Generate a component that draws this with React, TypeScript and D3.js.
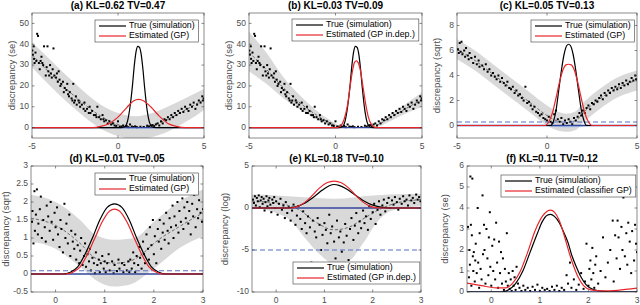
import { useEffect, useRef } from "react";
import * as d3 from "d3";

type Pt = [number, number];

// ---- text ----
const TITLES = [
  "(a) KL=0.62 TV=0.47",
  "(b) KL=0.03 TV=0.09",
  "(c) KL=0.05 TV=0.13",
  "(d) KL=0.01 TV=0.05",
  "(e) KL=0.18 TV=0.10",
  "(f) KL=0.11 TV=0.12",
];
const Y_LABELS = [
  "discrepancy (se)",
  "discrepancy (se)",
  "discrepancy (sqrt)",
  "discrepancy (sqrt)",
  "discrepancy (log)",
  "discrepancy (se)",
];
const TRUE_LABEL = "True (simulation)";
const EST_LABELS = [
  "Estimated (GP)",
  "Estimated (GP in.dep.)",
  "Estimated (GP)",
  "Estimated (GP)",
  "Estimated (GP in.dep.)",
  "Estimated (classifier GP)",
];

// ---- ticks ----
const WIDE_X_TICKS = [-5, 0, 5];
const NARROW_X_TICKS = [0, 1, 2, 3];
const SE_Y_TICKS = [0, 10, 20, 30, 40, 50];
const SQRT_C_Y_TICKS = [0, 2, 4, 6, 8];
const SQRT_D_Y_TICKS = [-0.5, 0, 0.5, 1, 1.5, 2, 2.5, 3];
const LOG_Y_TICKS = [-10, -5, 0, 5];
const SE_F_Y_TICKS = [0, 1, 2, 3, 4, 5, 6];

// ---- simulated discrepancies (se, panels a & b) ----
const SE_POINTS: Pt[] = [
  [-4.98, 37], [-4.95, 35], [-4.9, 39], [-4.88, 33], [-4.85, 31], [-4.8, 36], [-4.75, 32], [-4.7, 45],
  [-4.65, 44], [-4.6, 31], [-4.55, 28], [-4.5, 32], [-4.45, 34], [-4.4, 31], [-4.35, 30], [-4.3, 39],
  [-4.2, 25], [-4.15, 29], [-4.1, 39], [-4.05, 27], [-4.0, 25], [-3.95, 30], [-3.9, 26], [-3.85, 24],
  [-3.8, 28], [-3.75, 38], [-3.7, 25], [-3.6, 24], [-3.55, 26], [-3.5, 22], [-3.45, 27], [-3.4, 23],
  [-3.35, 20], [-3.3, 21], [-3.2, 22], [-3.15, 17], [-3.1, 19], [-3.0, 18], [-2.95, 21], [-2.9, 16],
  [-2.85, 15], [-2.8, 17], [-2.7, 14], [-2.65, 13], [-2.6, 21], [-2.55, 12], [-2.5, 13], [-2.45, 15],
  [-2.4, 11], [-2.3, 13], [-2.25, 12], [-2.2, 10], [-2.1, 11], [-2.0, 9], [-1.95, 12], [-1.9, 8],
  [-1.8, 9], [-1.7, 7], [-1.65, 10], [-1.6, 7], [-1.5, 8], [-1.4, 6], [-1.3, 6], [-1.25, 5],
  [-1.2, 10], [-1.1, 5], [-1.0, 4], [-0.9, 6], [-0.85, 4], [-0.8, 3], [-0.7, 3.5], [-0.6, 2],
  [-0.5, 3], [-0.4, 1.5], [-0.3, 2], [-0.2, 1], [-0.1, 0.8], [0, 3], [0.1, 0.5], [0.2, 0.4],
  [0.3, 1], [0.4, 0.3], [0.5, 0.8], [0.6, 0.2], [0.7, 1.5], [0.8, 0.5], [0.9, 0.3], [1.0, 0.6],
  [1.1, 0.2], [1.3, 0.4], [1.5, 0.3], [1.7, 0.9], [1.8, 0.5], [1.9, 1], [2.0, 1.2], [2.1, 0.7],
  [2.2, 1.5], [2.3, 2], [2.4, 1], [2.5, 3], [2.6, 2], [2.7, 4], [2.8, 3.5], [2.9, 5],
  [3.0, 4], [3.1, 6], [3.2, 5], [3.3, 7], [3.4, 6], [3.5, 8], [3.6, 7], [3.7, 9],
  [3.8, 7.5], [3.9, 10], [4.0, 9], [4.1, 8], [4.2, 11], [4.3, 10], [4.4, 12], [4.5, 9],
  [4.6, 11], [4.7, 13], [4.8, 12], [4.9, 15], [4.95, 13], [4.98, 14],
];

const SQRT_POINTS_C: Pt[] = [
  [-4.95, 6.1], [-4.9, 5.8], [-4.85, 6.6], [-4.8, 5.9], [-4.75, 6.7], [-4.7, 5.7], [-4.6, 6.0], [-4.55, 5.5],
  [-4.5, 6.2], [-4.4, 5.6], [-4.35, 5.3], [-4.3, 5.8], [-4.2, 5.4], [-4.1, 5.0], [-4.0, 5.5], [-3.9, 4.9],
  [-3.8, 5.2], [-3.75, 4.7], [-3.6, 4.8], [-3.5, 4.5], [-3.4, 4.9], [-3.3, 4.3], [-3.2, 4.5], [-3.1, 4.0],
  [-3.0, 4.2], [-2.9, 3.9], [-2.8, 3.7], [-2.7, 4.0], [-2.6, 3.5], [-2.5, 3.8], [-2.4, 3.4], [-2.3, 3.2],
  [-2.2, 3.5], [-2.1, 3.0], [-2.0, 2.9], [-1.9, 3.1], [-1.8, 2.6], [-1.7, 2.8], [-1.6, 2.4], [-1.5, 2.5],
  [-1.4, 2.2], [-1.3, 2.0], [-1.2, 3.1], [-1.1, 1.8], [-1.0, 1.9], [-0.9, 1.6], [-0.8, 1.3], [-0.7, 1.5],
  [-0.6, 1.1], [-0.5, 1.0], [-0.4, 0.8], [-0.3, 0.9], [-0.2, 0.6], [-0.1, 0.5], [0.0, 0.4], [0.1, 0.7],
  [0.2, 0.3], [0.3, 0.2], [0.4, 0.9], [0.5, 1.2], [0.6, 0.5], [0.7, 0.3], [0.8, 0.6], [0.9, 0.1],
  [1.0, 0.4], [1.1, 0.2], [1.2, 0.5], [1.3, 0.3], [1.4, 0.1], [1.5, 0.6], [1.6, 0.4], [1.7, 0.7],
  [1.8, 1.0], [1.9, 0.8], [2.0, 1.2], [2.1, 1.0], [2.2, 1.4], [2.3, 1.6], [2.4, 1.3], [2.5, 1.8],
  [2.6, 1.7], [2.7, 2.0], [2.8, 1.9], [2.9, 2.2], [3.0, 2.4], [3.1, 2.1], [3.2, 2.6], [3.3, 2.4],
  [3.4, 2.8], [3.5, 2.6], [3.6, 3.0], [3.7, 2.8], [3.8, 3.1], [3.9, 2.9], [4.0, 3.3], [4.1, 3.0],
  [4.2, 3.4], [4.3, 3.2], [4.4, 3.6], [4.5, 3.3], [4.6, 3.5], [4.7, 3.8], [4.8, 3.6], [4.9, 4.0], [4.95, 3.7],
];

const SQRT_POINTS_D: Pt[] = [
  [-0.48, 1.45], [-0.47, 1.75], [-0.45, 0.85], [-0.43, 2.3], [-0.42, 1.2], [-0.4, 1.65], [-0.38, 2.35], [-0.36, 1.1],
  [-0.35, 1.4], [-0.32, 1.8], [-0.3, 2.15], [-0.28, 1.0], [-0.25, 1.5], [-0.22, 1.3], [-0.2, 0.9], [-0.18, 1.9],
  [-0.15, 1.6], [-0.12, 1.2], [-0.1, 2.0], [-0.08, 1.45], [-0.05, 0.95], [-0.02, 1.7], [0, 1.3], [0.03, 1.85],
  [0.05, 1.1], [0.08, 0.75], [0.1, 1.5], [0.12, 1.25], [0.15, 0.6], [0.18, 1.95], [0.2, 1.0], [0.22, 1.4],
  [0.25, 0.85], [0.28, 1.65], [0.3, 0.5], [0.32, 1.2], [0.35, 0.9], [0.38, 0.7], [0.4, 1.1], [0.42, 0.4],
  [0.45, 0.8], [0.48, 0.3], [0.5, 0.65], [0.52, 1.0], [0.55, 0.25], [0.58, 0.5], [0.6, 0.85], [0.62, 0.2],
  [0.65, 0.55], [0.68, 0.35], [0.7, 0.7], [0.72, 0.1], [0.75, 0.45], [0.78, 0.3], [0.8, 0.02], [0.82, 0.6],
  [0.85, 0.25], [0.88, 0.4], [0.9, 0.05], [0.92, 0.3], [0.95, 0.5], [0.98, 0.15], [1.0, 0.35], [1.02, 0.05],
  [1.05, 0.3], [1.08, 0.55], [1.1, 0.1], [1.15, 0.35], [1.18, 0.02], [1.2, 0.25], [1.25, 0.08], [1.28, 0.4],
  [1.3, 0.15], [1.35, 0.3], [1.38, 0.05], [1.4, 0.25], [1.45, 0.1], [1.48, 0.35], [1.5, 0.05], [1.52, 0.4],
  [1.55, 0.15], [1.58, 0.6], [1.6, 0.3], [1.62, 0.05], [1.65, 0.5], [1.68, 0.25], [1.7, 0.75], [1.72, 0.45],
  [1.75, 0.15], [1.78, 0.9], [1.8, 0.55], [1.82, 0.3], [1.85, 1.1], [1.88, 0.7], [1.9, 0.4], [1.92, 1.3],
  [1.95, 0.8], [1.98, 1.5], [2.0, 0.55], [2.02, 1.05], [2.05, 0.3], [2.08, 1.25], [2.1, 0.9], [2.12, 1.5],
  [2.15, 0.7], [2.18, 1.15], [2.2, 1.4], [2.22, 0.95], [2.25, 1.7], [2.28, 1.2], [2.3, 0.85], [2.32, 1.55],
  [2.35, 1.3], [2.38, 1.9], [2.4, 1.0], [2.42, 1.6], [2.45, 1.35], [2.48, 2.0], [2.5, 1.15], [2.52, 1.75],
  [2.55, 1.45], [2.58, 2.1], [2.6, 1.25], [2.62, 1.85], [2.65, 1.55], [2.68, 2.0], [2.7, 1.4], [2.72, 1.75],
  [2.75, 1.1], [2.78, 1.95], [2.8, 1.6], [2.82, 2.2], [2.85, 1.3], [2.88, 1.8], [2.9, 1.55], [2.92, 2.05],
  [2.95, 1.7], [2.98, 1.45], [3.0, 1.8],
];

const LOG_POINTS_E: Pt[] = [
  [-0.48, 1.0], [-0.46, 0.6], [-0.44, 1.4], [-0.42, 0.3], [-0.4, 1.2], [-0.38, 0.8], [-0.36, 1.5], [-0.34, 0.1],
  [-0.32, 0.9], [-0.3, 1.3], [-0.28, 0.5], [-0.26, 1.1], [-0.24, -0.3], [-0.22, 0.7], [-0.2, 1.4], [-0.18, 0.2],
  [-0.16, 0.9], [-0.14, 1.2], [-0.12, 0.4], [-0.1, -0.5], [-0.08, 1.0], [-0.06, 0.6], [-0.04, 1.3], [-0.02, 0.0],
  [0.0, 0.8], [0.03, -0.8], [0.06, 0.5], [0.09, 1.1], [0.12, -0.2], [0.15, 0.3], [0.18, -1.2], [0.2, 0.7],
  [0.23, -0.6], [0.26, 0.1], [0.3, -1.5], [0.33, -0.3], [0.36, 0.4], [0.4, -2.0], [0.43, -0.9], [0.46, 0.2],
  [0.5, -1.3], [0.53, -2.5], [0.56, -0.4], [0.6, -1.8], [0.63, -3.0], [0.66, -1.0], [0.7, -2.3], [0.73, -6.5],
  [0.76, -1.5], [0.8, -2.8], [0.83, -3.5], [0.86, -1.2], [0.9, -2.0], [0.93, -5.0], [0.96, -3.2], [1.0, -1.8],
  [1.03, -2.6], [1.06, -4.2], [1.1, -0.8], [1.13, -3.0], [1.16, -2.2], [1.2, -4.0], [1.23, -6.0], [1.26, -1.5],
  [1.3, -3.5], [1.33, -2.8], [1.36, -5.2], [1.4, -4.1], [1.43, -1.9], [1.46, -3.3], [1.5, -6.2], [1.53, -2.5],
  [1.56, -1.2], [1.6, -3.8], [1.63, -2.1], [1.66, -0.6], [1.7, -3.0], [1.73, -1.6], [1.76, -2.4], [1.8, -0.3],
  [1.83, -1.8], [1.86, -1.0], [1.9, -2.6], [1.93, 0.2], [1.96, -1.3], [2.0, -0.5], [2.03, 0.5], [2.06, -1.9],
  [2.1, -0.2], [2.13, 0.8], [2.16, -0.8], [2.2, 0.3], [2.23, 1.0], [2.26, -0.4], [2.3, 0.6], [2.33, 1.2],
  [2.36, 0.0], [2.4, 0.9], [2.43, 0.4], [2.46, 1.3], [2.5, 0.7], [2.53, -0.2], [2.56, 1.1], [2.6, 0.5],
  [2.63, 1.4], [2.66, 0.8], [2.7, 1.0], [2.73, 0.3], [2.76, 1.5], [2.8, 0.9], [2.83, 1.2], [2.86, 0.6],
  [2.9, 1.6], [2.93, 1.0], [2.96, 1.3], [2.99, 0.8],
];

const SE_POINTS_F: Pt[] = [
  [-0.48, 3.1], [-0.46, 0.7], [-0.45, 2.0], [-0.44, 1.3], [-0.43, 5.5], [-0.42, 3.2], [-0.41, 0.3], [-0.4, 2.7],
  [-0.39, 5.4], [-0.38, 1.7], [-0.37, 1.0], [-0.36, 1.9], [-0.34, 0.5], [-0.33, 1.5], [-0.32, 2.3], [-0.3, 0.9],
  [-0.28, 4.0], [-0.27, 1.4], [-0.25, 0.2], [-0.24, 2.8], [-0.22, 1.1], [-0.2, 0.6], [-0.18, 4.6], [-0.17, 1.8],
  [-0.15, 3.2], [-0.14, 2.0], [-0.12, 0.4], [-0.1, 3.0], [-0.08, 1.6], [-0.06, 0.8], [-0.05, 2.6], [-0.03, 3.8],
  [-0.02, 1.2], [0.0, 0.3], [0.02, 2.2], [0.04, 1.0], [0.06, 2.5], [0.08, 0.6], [0.1, 3.3], [0.12, 1.4],
  [0.14, 0.2], [0.16, 2.4], [0.18, 0.9], [0.2, 1.9], [0.22, 0.4], [0.24, 1.6], [0.26, 0.1], [0.28, 1.1],
  [0.3, 0.5], [0.32, 2.8], [0.34, 0.3], [0.36, 0.9], [0.38, 0.15], [0.4, 0.6], [0.42, 0.05], [0.44, 1.0],
  [0.46, 0.3], [0.48, 0.7], [0.5, 0.1], [0.52, 1.2], [0.55, 0.4], [0.58, 0.2], [0.62, 0.05], [0.66, 0.3],
  [0.7, 0.1], [0.75, 0.2], [0.8, 0.05], [0.85, 0.25], [0.9, 0.1], [0.95, 0.35], [1.0, 0.05], [1.05, 0.2],
  [1.1, 0.1], [1.15, 0.15], [1.2, 0.05], [1.25, 0.25], [1.3, 0.1], [1.35, 0.3], [1.4, 0.05], [1.45, 0.2],
  [1.5, 0.1], [1.55, 0.8], [1.58, 0.4], [1.62, 1.4], [1.65, 0.2], [1.7, 0.6], [1.75, 0.1], [1.8, 0.35],
  [1.85, 0.9], [1.9, 0.15], [1.93, 0.5], [1.96, 2.3], [2.0, 0.3], [2.02, 1.1], [2.04, 1.5], [2.06, 0.6],
  [2.08, 2.1], [2.1, 0.9], [2.12, 0.2], [2.14, 1.3], [2.16, 1.7], [2.2, 0.4], [2.25, 1.0], [2.3, 2.6],
  [2.35, 0.7], [2.4, 1.4], [2.45, 2.0], [2.5, 3.4], [2.52, 0.5], [2.55, 2.7], [2.58, 1.6], [2.6, 3.4],
  [2.62, 2.6], [2.65, 1.1], [2.68, 3.1], [2.7, 2.0], [2.72, 4.5], [2.75, 1.7], [2.78, 2.8], [2.8, 1.3],
  [2.82, 3.3], [2.85, 2.4], [2.88, 0.9], [2.9, 2.9], [2.92, 5.1], [2.94, 1.5], [2.96, 3.2], [2.98, 2.3], [3.0, 1.9],
];

// ---- GP mean and 95% band ----
const MEAN_A: Pt[] = [[-5, 35], [-4, 26.5], [-3, 18.5], [-2, 11.5], [-1, 5.5], [0, 1.5], [0.8, 0], [1.5, 0.3], [2, 1.2], [3, 4.5], [4, 8.8], [5, 13.5]];
const UPPER_A: Pt[] = [[-5, 41], [-4, 33], [-3, 25], [-2, 17.5], [-1, 11], [0, 7], [1, 5.5], [2, 7], [3, 10.5], [4, 14.5], [5, 18.5]];
const LOWER_A: Pt[] = [[-5, 29], [-4, 20.5], [-3, 12.5], [-2, 5.5], [-1, -0.5], [0, -4], [1, -5.5], [2, -4.5], [3, -1.5], [4, 3], [5, 8.5]];

const MEAN_B: Pt[] = [[-5, 36], [-4, 28], [-3, 19], [-2, 11.5], [-1, 5.5], [-0.3, 2.2], [0.2, 0.5], [1, 0], [2, 0.3], [2.5, 1.5], [3, 4], [4, 8.8], [5, 13.5]];
const UPPER_B: Pt[] = [[-5, 46], [-4, 36], [-3, 24], [-2, 15], [-1, 7.5], [-0.3, 3.5], [0, 2], [0.3, 0.5], [1, 0.2], [2.2, 0.5], [2.5, 2.5], [3, 5.5], [4, 11], [5, 17]];
const LOWER_B: Pt[] = [[-5, 27], [-4, 21], [-3, 14], [-2, 8.5], [-1, 3.5], [-0.3, 1], [0, 0.3], [0.3, 0], [1, -0.2], [2.2, 0], [2.5, 0.6], [3, 2.5], [4, 6.5], [5, 10]];

const MEAN_C: Pt[] = [[-5, 6.1], [-4, 5.2], [-3, 4.1], [-2, 3.0], [-1, 1.9], [0, 0.8], [0.6, 0.35], [1.1, 0.25], [1.6, 0.4], [2, 1.0], [3, 2.2], [4, 3.1], [5, 3.6]];
const UPPER_C: Pt[] = [[-5, 6.9], [-4, 6.0], [-3, 4.9], [-2, 3.8], [-1, 2.7], [0, 1.6], [0.6, 1.1], [1.1, 0.95], [1.6, 1.15], [2, 1.8], [3, 3.0], [4, 3.9], [5, 4.4]];
const LOWER_C: Pt[] = [[-5, 5.3], [-4, 4.4], [-3, 3.3], [-2, 2.2], [-1, 1.1], [0, 0.0], [0.6, -0.4], [1.1, -0.5], [1.6, -0.35], [2, 0.2], [3, 1.4], [4, 2.3], [5, 2.8]];

const MEAN_D: Pt[] = [[-0.5, 1.55], [0, 1.35], [0.5, 0.85], [0.8, 0.45], [1.2, 0.3], [1.5, 0.35], [1.8, 0.6], [2, 0.85], [2.5, 1.3], [3, 1.7]];
const UPPER_D: Pt[] = [[-0.5, 2.2], [0, 2.0], [0.5, 1.5], [0.8, 1.1], [1.2, 0.95], [1.6, 1.0], [2, 1.45], [2.5, 2.0], [3, 2.35]];
const LOWER_D: Pt[] = [[-0.5, 0.9], [0, 0.7], [0.5, 0.2], [0.8, -0.15], [1.2, -0.35], [1.5, -0.3], [2, 0.15], [2.5, 0.7], [3, 1.05]];

const MEAN_E: Pt[] = [[-0.5, 0.8], [0, 0.6], [0.5, -0.3], [0.8, -1.6], [1.2, -2.6], [1.5, -2.3], [1.8, -1.3], [2.2, 0], [2.5, 0.6], [3, 1.0]];
const UPPER_E: Pt[] = [[-0.5, 1.6], [0, 1.5], [0.5, 1.3], [1.2, 1.1], [2, 1.5], [3, 1.7]];
const LOWER_E: Pt[] = [[-0.5, 0.1], [0, -0.6], [0.3, -1.5], [0.6, -3.6], [0.9, -5.5], [1.2, -6.6], [1.5, -6.3], [1.8, -4.2], [2.1, -1.6], [2.4, -0.3], [3, 0.2]];

// ---- true and estimated posteriors ----
const TRUE_AB: Pt[] = [[-5, 0], [0.2, 0], [0.4, 0.5], [0.55, 3], [0.7, 10], [0.85, 21], [0.95, 30], [1.05, 36.5], [1.15, 39], [1.25, 38.5], [1.35, 35], [1.45, 28], [1.55, 19], [1.7, 8], [1.85, 2], [2.0, 0.3], [2.2, 0], [5, 0]];
const EST_A: Pt[] = [[-5, 0], [-1.5, 0], [-1.0, 0.6], [-0.5, 2], [0, 5], [0.5, 9.5], [0.9, 12.8], [1.2, 13.5], [1.5, 12.8], [1.9, 10], [2.4, 5.5], [2.9, 2], [3.4, 0.6], [3.9, 0], [5, 0]];
const EST_B: Pt[] = [[-5, 0], [0.1, 0], [0.3, 0.8], [0.5, 4], [0.7, 11], [0.85, 20], [1.0, 28], [1.1, 31.3], [1.2, 32], [1.3, 31.3], [1.45, 27], [1.6, 19], [1.75, 11], [1.9, 5], [2.1, 1.2], [2.3, 0.1], [2.5, 0], [5, 0]];
const TRUE_C: Pt[] = [[-5, 0], [0.2, 0], [0.35, 0.3], [0.5, 1.2], [0.65, 2.8], [0.8, 4.4], [0.95, 5.7], [1.1, 6.4], [1.2, 6.5], [1.3, 6.4], [1.45, 5.7], [1.6, 4.4], [1.75, 2.8], [1.9, 1.3], [2.05, 0.4], [2.2, 0], [5, 0]];
const EST_C: Pt[] = [[-5, 0], [-0.1, 0], [0.1, 0.3], [0.3, 1.0], [0.5, 2.2], [0.7, 3.5], [0.9, 4.5], [1.05, 4.85], [1.2, 4.9], [1.35, 4.85], [1.5, 4.5], [1.7, 3.5], [1.9, 2.2], [2.1, 1.0], [2.3, 0.3], [2.5, 0], [5, 0]];
const TRUE_D: Pt[] = [[-0.5, 0], [0.15, 0], [0.3, 0.05], [0.45, 0.2], [0.6, 0.55], [0.75, 1.0], [0.9, 1.5], [1.05, 1.85], [1.2, 1.95], [1.35, 1.85], [1.5, 1.5], [1.65, 1.0], [1.8, 0.55], [1.95, 0.2], [2.1, 0.05], [2.25, 0], [3, 0]];
const EST_D: Pt[] = [[-0.5, 0], [0.2, 0], [0.35, 0.05], [0.5, 0.2], [0.65, 0.55], [0.8, 1.0], [0.95, 1.45], [1.1, 1.75], [1.2, 1.8], [1.3, 1.75], [1.45, 1.45], [1.6, 1.0], [1.75, 0.55], [1.9, 0.2], [2.05, 0.05], [2.2, 0], [3, 0]];
const TRUE_E: Pt[] = [[-0.5, 0], [0.2, 0], [0.4, 0.15], [0.6, 0.6], [0.8, 1.4], [0.95, 2.1], [1.1, 2.65], [1.2, 2.8], [1.3, 2.7], [1.45, 2.3], [1.6, 1.7], [1.8, 0.9], [2.0, 0.35], [2.2, 0.08], [2.4, 0], [3, 0]];
const EST_E: Pt[] = [[-0.5, 0], [0.3, 0], [0.45, 0.2], [0.6, 0.7], [0.75, 1.5], [0.9, 2.4], [1.05, 3.0], [1.2, 3.2], [1.35, 3.0], [1.5, 2.4], [1.65, 1.5], [1.8, 0.7], [1.95, 0.2], [2.1, 0.02], [2.3, 0], [3, 0]];
const TRUE_F: Pt[] = [[-0.5, 0], [0.2, 0], [0.35, 0.1], [0.5, 0.4], [0.65, 1.0], [0.8, 1.9], [0.95, 2.8], [1.05, 3.35], [1.15, 3.65], [1.22, 3.7], [1.3, 3.6], [1.4, 3.3], [1.5, 2.8], [1.58, 2.35], [1.65, 1.8], [1.75, 1.2], [1.85, 0.7], [1.95, 0.35], [2.1, 0.12], [2.3, 0.03], [2.6, 0], [3, 0]];
const EST_F: Pt[] = [[-0.5, 0.42], [-0.2, 0.3], [0.1, 0.2], [0.3, 0.2], [0.45, 0.45], [0.6, 1.0], [0.75, 1.9], [0.9, 2.9], [1.05, 3.6], [1.15, 3.85], [1.22, 3.9], [1.3, 3.8], [1.4, 3.4], [1.5, 2.7], [1.6, 1.9], [1.7, 1.2], [1.8, 0.65], [1.9, 0.3], [2.05, 0.1], [2.3, 0.05], [2.6, 0.08], [3.0, 0.18]];

// light blue strip under zero (posterior-threshold area)
const LIGHT_A: Pt[] = [[-0.4, 0], [0.3, -0.5], [1.1, -0.7], [1.9, -0.5], [2.5, 0]];
const LIGHT_C: Pt[] = [[-0.2, 0], [0.4, -0.12], [1.1, -0.18], [1.8, -0.12], [2.4, 0]];

// threshold levels (dashed blue)
const DASHED_LEVELS: (number | null)[] = [null, null, 0.28, 0.09, -5, null];

// ---- layout ----
type Box = { x0: number; x1: number; y0: number; y1: number };
const BOXES: Box[] = [
  { x0: 32, x1: 204, y0: 13, y1: 138 },
  { x0: 249, x1: 422, y0: 13, y1: 138 },
  { x0: 457, x1: 637, y0: 13, y1: 138 },
  { x0: 31, x1: 203, y0: 166, y1: 292 },
  { x0: 252, x1: 421, y0: 166, y1: 292 },
  { x0: 467, x1: 637, y0: 166, y1: 292 },
];
const YLABEL_OFFSET = [20, 20, 20, 25, 27, 22];
const LEGEND_POS: [number, number][] = [
  [95, 20],
  [292, 19],
  [531, 20],
  [95, 173],
  [293, 262],
  [501, 175],
];

const FONT = "'Liberation Sans', Arial, Helvetica, sans-serif";
const AX = "#3d3d3d";
const TXT = "#4d4d4d";
const BAND = "#d9d9d9";
const BLUE = "#33449c";
const BLUE_DASH = "#5570c4";
const LIGHT_BLUE = "#b9cdee";
const RED = "#e8262a";

export default function App() {
  const ref = useRef<SVGSVGElement | null>(null);

  useEffect(() => {
    if (!ref.current) return;
    const svg = d3.select(ref.current);
    svg.selectAll("*").remove();

    const panels = [
      { xd: [-5, 5], yd: [-5, 55], xt: WIDE_X_TICKS, yt: SE_Y_TICKS, pts: SE_POINTS, mean: MEAN_A, up: UPPER_A, lo: LOWER_A, tr: TRUE_AB, est: EST_A, light: LIGHT_A },
      { xd: [-5, 5], yd: [-5, 55], xt: WIDE_X_TICKS, yt: SE_Y_TICKS, pts: SE_POINTS, mean: MEAN_B, up: UPPER_B, lo: LOWER_B, tr: TRUE_AB, est: EST_B, light: null },
      { xd: [-5, 5], yd: [-1, 9], xt: WIDE_X_TICKS, yt: SQRT_C_Y_TICKS, pts: SQRT_POINTS_C, mean: MEAN_C, up: UPPER_C, lo: LOWER_C, tr: TRUE_C, est: EST_C, light: LIGHT_C },
      { xd: [-0.5, 3], yd: [-0.5, 3], xt: NARROW_X_TICKS, yt: SQRT_D_Y_TICKS, pts: SQRT_POINTS_D, mean: MEAN_D, up: UPPER_D, lo: LOWER_D, tr: TRUE_D, est: EST_D, light: null },
      { xd: [-0.5, 3], yd: [-10, 5], xt: NARROW_X_TICKS, yt: LOG_Y_TICKS, pts: LOG_POINTS_E, mean: MEAN_E, up: UPPER_E, lo: LOWER_E, tr: TRUE_E, est: EST_E, light: null },
      { xd: [-0.5, 3], yd: [0, 6], xt: NARROW_X_TICKS, yt: SE_F_Y_TICKS, pts: SE_POINTS_F, mean: null, up: null, lo: null, tr: TRUE_F, est: EST_F, light: null },
    ];

    panels.forEach((p, i) => {
      const b = BOXES[i];
      const x = d3.scaleLinear().domain(p.xd).range([b.x0, b.x1]);
      const y = d3.scaleLinear().domain(p.yd).range([b.y1, b.y0]);
      const g = svg.append("g");
      const clipId = `clip-${i}`;
      svg
        .append("clipPath")
        .attr("id", clipId)
        .append("rect")
        .attr("x", b.x0)
        .attr("y", b.y0)
        .attr("width", b.x1 - b.x0)
        .attr("height", b.y1 - b.y0);
      const plot = g.append("g").attr("clip-path", `url(#${clipId})`);
      const smooth = d3.line<Pt>().x((d) => x(d[0])).y((d) => y(d[1])).curve(d3.curveMonotoneX);

      // band
      if (p.up && p.lo) {
        const upPath = smooth(p.up) as string;
        const loPath = (smooth([...p.lo].reverse()) as string).replace(/^M/, "L");
        plot.append("path").attr("d", upPath + loPath + "Z").attr("fill", BAND);
      }

      if (p.light) {
        plot
          .append("path")
          .attr("d", d3.area<Pt>().x((d) => x(d[0])).y0(y(0)).y1((d) => y(d[1])).curve(d3.curveMonotoneX)(p.light))
          .attr("fill", LIGHT_BLUE);
      }

      // mean
      if (p.mean) {
        plot
          .append("path")
          .attr("d", smooth(p.mean))
          .attr("fill", "none")
          .attr("stroke", "#222")
          .attr("stroke-width", 0.6)
          .attr("stroke-dasharray", "3,2");
      }

      // points
      plot
        .append("g")
        .selectAll("rect")
        .data(p.pts)
        .join("rect")
        .attr("x", (d) => x(d[0]) - 1)
        .attr("y", (d) => y(d[1]) - 1)
        .attr("width", 2)
        .attr("height", 2)
        .attr("fill", "#000");

      // thresholds
      const lvl = DASHED_LEVELS[i];
      if (lvl !== null) {
        plot
          .append("line")
          .attr("x1", b.x0)
          .attr("x2", b.x1)
          .attr("y1", y(lvl))
          .attr("y2", y(lvl))
          .attr("stroke", BLUE_DASH)
          .attr("stroke-width", 1.1)
          .attr("stroke-dasharray", "5,3");
      }
      plot
        .append("line")
        .attr("x1", b.x0)
        .attr("x2", b.x1)
        .attr("y1", y(0))
        .attr("y2", y(0))
        .attr("stroke", BLUE)
        .attr("stroke-width", 1.3);

      // curves
      plot.append("path").attr("d", smooth(p.tr)).attr("fill", "none").attr("stroke", "#000").attr("stroke-width", 1.2);
      plot.append("path").attr("d", smooth(p.est)).attr("fill", "none").attr("stroke", RED).attr("stroke-width", 1.2);

      // box
      g.append("rect")
        .attr("x", b.x0)
        .attr("y", b.y0)
        .attr("width", b.x1 - b.x0)
        .attr("height", b.y1 - b.y0)
        .attr("fill", "none")
        .attr("stroke", AX)
        .attr("stroke-width", 0.6);

      // ticks (inward, all sides)
      const tk = 2.5;
      p.xt.forEach((t) => {
        const px = x(t);
        g.append("line").attr("x1", px).attr("x2", px).attr("y1", b.y1).attr("y2", b.y1 - tk).attr("stroke", AX).attr("stroke-width", 0.6);
        g.append("line").attr("x1", px).attr("x2", px).attr("y1", b.y0).attr("y2", b.y0 + tk).attr("stroke", AX).attr("stroke-width", 0.6);
        g.append("text")
          .attr("x", px)
          .attr("y", b.y1 + 9)
          .attr("text-anchor", "middle")
          .attr("dominant-baseline", "middle")
          .attr("font-family", FONT)
          .attr("font-size", 8.5)
          .attr("fill", TXT)
          .text(String(t));
      });
      p.yt.forEach((t) => {
        const py = y(t);
        g.append("line").attr("x1", b.x0).attr("x2", b.x0 + tk).attr("y1", py).attr("y2", py).attr("stroke", AX).attr("stroke-width", 0.6);
        g.append("line").attr("x1", b.x1).attr("x2", b.x1 - tk).attr("y1", py).attr("y2", py).attr("stroke", AX).attr("stroke-width", 0.6);
        g.append("text")
          .attr("x", b.x0 - 3)
          .attr("y", py)
          .attr("text-anchor", "end")
          .attr("dominant-baseline", "middle")
          .attr("font-family", FONT)
          .attr("font-size", 8.5)
          .attr("fill", TXT)
          .text(String(t));
      });

      // title
      g.append("text")
        .attr("x", (b.x0 + b.x1) / 2)
        .attr("y", b.y0 - 7)
        .attr("text-anchor", "middle")
        .attr("dominant-baseline", "middle")
        .attr("font-family", FONT)
        .attr("font-size", 10)
        .attr("font-weight", "bold")
        .attr("fill", "#000")
        .text(TITLES[i]);

      // y label
      const ly = (b.y0 + b.y1) / 2;
      const lx = b.x0 - YLABEL_OFFSET[i];
      g.append("text")
        .attr("transform", `translate(${lx},${ly}) rotate(-90)`)
        .attr("text-anchor", "middle")
        .attr("dominant-baseline", "middle")
        .attr("font-family", FONT)
        .attr("font-size", 9.5)
        .attr("fill", TXT)
        .text(Y_LABELS[i]);

      // legend
      const [lx0, ly0] = LEGEND_POS[i];
      const leg = g.append("g");
      const box = leg.append("rect").attr("x", lx0).attr("y", ly0).attr("height", 22).attr("fill", "#fff").attr("stroke", AX).attr("stroke-width", 0.6);
      const rows = [
        { label: TRUE_LABEL, color: "#000" },
        { label: EST_LABELS[i], color: RED },
      ];
      let maxW = 0;
      rows.forEach((r, k) => {
        const ry = ly0 + 6 + k * 10;
        leg.append("line").attr("x1", lx0 + 4).attr("x2", lx0 + 31).attr("y1", ry).attr("y2", ry).attr("stroke", r.color).attr("stroke-width", 1.2);
        const t = leg
          .append("text")
          .attr("x", lx0 + 34)
          .attr("y", ry)
          .attr("dominant-baseline", "middle")
          .attr("font-family", FONT)
          .attr("font-size", 8.8)
          .attr("fill", "#000")
          .text(r.label);
        const w = (t.node() as SVGTextElement).getComputedTextLength();
        maxW = Math.max(maxW, w);
      });
      box.attr("width", 34 + maxW + 4);
    });
  }, []);

  return (
    <svg
      ref={ref}
      width={640}
      height={305}
      style={{ position: "absolute", left: 0, top: 0, background: "#fff" }}
    />
  );
}
